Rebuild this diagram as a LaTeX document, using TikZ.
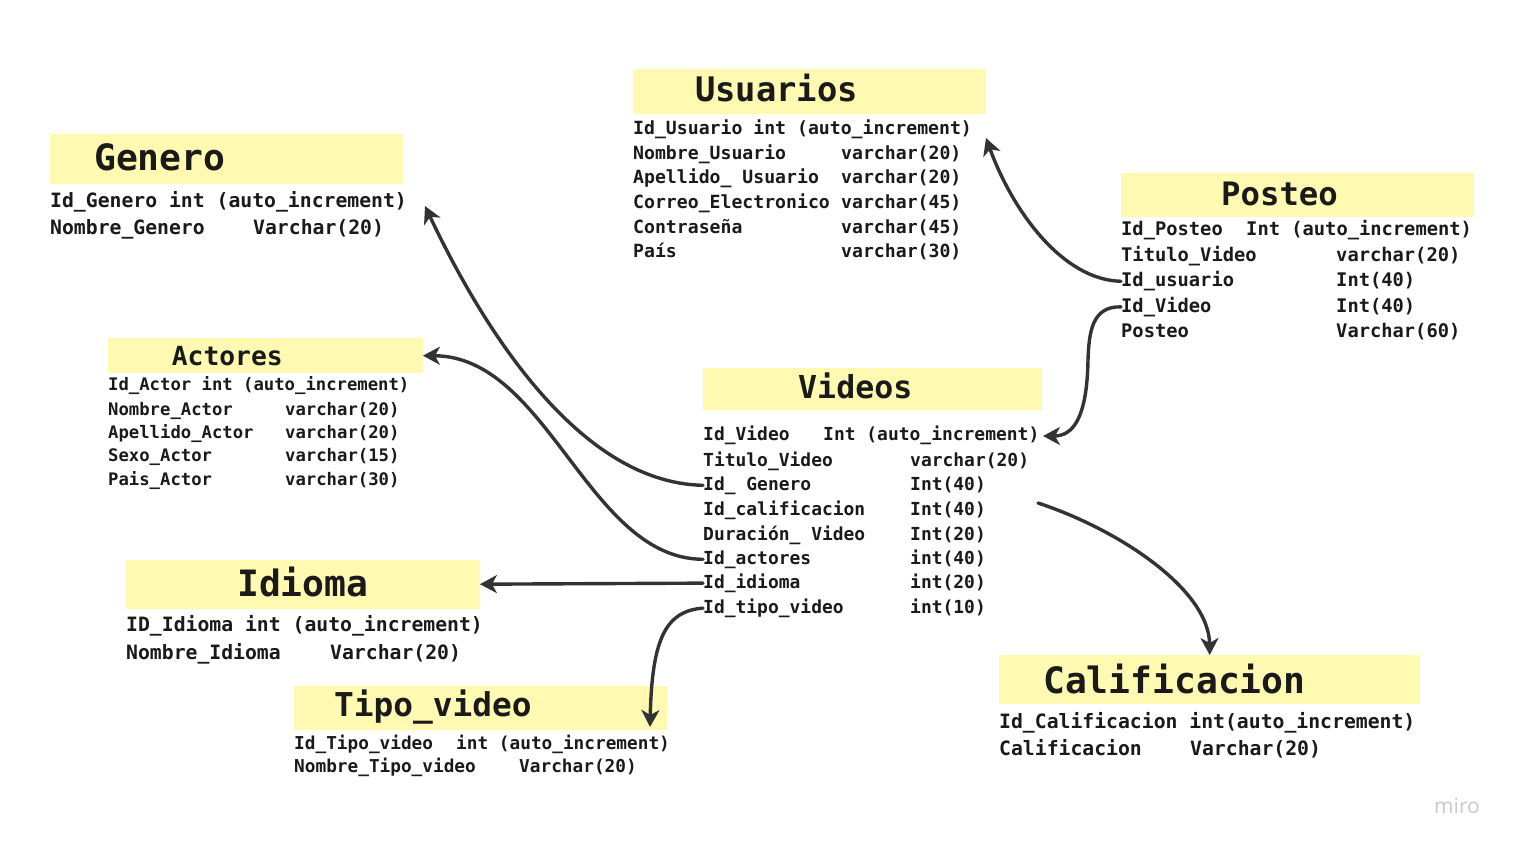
\documentclass[tikz,border=0pt]{standalone}
\usepackage{fontspec}
\setmainfont{DejaVu Sans}
\newfontfamily\dmono{DejaVu Sans Mono}
\newfontfamily\misans{Open Sans}
\usetikzlibrary{arrows.meta}
\definecolor{stickyY}{RGB}{255,249,177}
\definecolor{inkC}{RGB}{26,26,26}
\definecolor{lineC}{RGB}{51,51,51}
\definecolor{miroC}{RGB}{200,201,208}
\tikzset{
  ttlbox/.style={fill=stickyY, draw=none, anchor=north west, inner sep=0pt},
  ttltxt/.style={anchor=base west, inner sep=0pt, text=inkC, font=\dmono\bfseries\fontsize{#1}{#1}\selectfont},
  rowtxt/.style={anchor=base west, inner sep=0pt, text=inkC, font=\dmono\bfseries\fontsize{#1}{#1}\selectfont},
  rel/.style={draw=lineC, line width=3.4pt, line cap=round, -{Stealth[length=17pt,width=18pt,inset=5pt]}}
}
\begin{document}
\begin{tikzpicture}[x=1pt,y=-1pt]
\fill[white] (0,0) rectangle (1516,848);
\useasboundingbox (0,0) rectangle (1516,848);

% ---------- Genero
\node[ttlbox, minimum width=353pt, minimum height=49.5pt] (genT) at (49.5,134) {};
\node[ttltxt=36.3] (genN) at (94,170.7) {Genero};
\node[rowtxt=19.75] (g1) at (50,207.3) {Id\_Genero int (auto\_increment)};
\node[rowtxt=19.75] (g2) at (50,234) {Nombre\_Genero};
\node[rowtxt=19.75] (g2b) at (253,234) {Varchar(20)};

% ---------- Usuarios
\node[ttlbox, minimum width=352.5pt, minimum height=45.5pt] (usuT) at (633,68.5) {};
\node[ttltxt=33.8] (usuN) at (695,101.7) {Usuarios};
\node[rowtxt=18.15] (u1) at (633,135) {Id\_Usuario int (auto\_increment)};
\node[rowtxt=18.15] (u2) at (633,160) {Nombre\_Usuario};
\node[rowtxt=18.15] (u2b) at (841,160) {varchar(20)};
\node[rowtxt=18.15] (u3) at (633,184) {Apellido\_ Usuario};
\node[rowtxt=18.15] (u3b) at (841,184) {varchar(20)};
\node[rowtxt=18.15] (u4) at (633,208.3) {Correo\_Electronico};
\node[rowtxt=18.15] (u4b) at (841,208.3) {varchar(45)};
\node[rowtxt=18.15] (u5) at (633,233.3) {Contraseña};
\node[rowtxt=18.15] (u5b) at (841,233.3) {varchar(45)};
\node[rowtxt=18.15] (u6) at (633,257.3) {País};
\node[rowtxt=18.15] (u6b) at (841,257.3) {varchar(30)};

% ---------- Posteo
\node[ttlbox, minimum width=352.5pt, minimum height=44pt] (posT) at (1121,172.5) {};
\node[ttltxt=32.3] (posN) at (1221,205) {Posteo};
\node[rowtxt=18.75] (p1) at (1121,235.7) {Id\_Posteo};
\node[rowtxt=18.75] (p1b) at (1246,235.7) {Int (auto\_increment)};
\node[rowtxt=18.75] (p2) at (1121,261) {Titulo\_Video};
\node[rowtxt=18.75] (p2b) at (1336,261) {varchar(20)};
\node[rowtxt=18.75] (p3) at (1121,286.7) {Id\_usuario};
\node[rowtxt=18.75] (p3b) at (1336,286.7) {Int(40)};
\node[rowtxt=18.75] (p4) at (1121,312.3) {Id\_Video};
\node[rowtxt=18.75] (p4b) at (1336,312.3) {Int(40)};
\node[rowtxt=18.75] (p5) at (1121,337.3) {Posteo};
\node[rowtxt=18.75] (p5b) at (1336,337.3) {Varchar(60)};

% ---------- Actores
\node[ttlbox, minimum width=314.5pt, minimum height=35pt] (actT) at (108,338) {};
\node[ttltxt=26.3] (actN) at (171.7,365) {Actores};
\node[rowtxt=17.25] (a1) at (108,390.7) {Id\_Actor int (auto\_increment)};
\node[rowtxt=17.25] (a2) at (108,415) {Nombre\_Actor};
\node[rowtxt=17.25] (a2b) at (285,415) {varchar(20)};
\node[rowtxt=17.25] (a3) at (108,438.3) {Apellido\_Actor};
\node[rowtxt=17.25] (a3b) at (285,438.3) {varchar(20)};
\node[rowtxt=17.25] (a4) at (108,461.7) {Sexo\_Actor};
\node[rowtxt=17.25] (a4b) at (285,461.7) {varchar(15)};
\node[rowtxt=17.25] (a5) at (108,485) {Pais\_Actor};
\node[rowtxt=17.25] (a5b) at (285,485) {varchar(30)};

% ---------- Videos
\node[ttlbox, minimum width=338.5pt, minimum height=42pt] (vidT) at (703,368) {};
\node[ttltxt=31.6] (vidN) at (798,398.3) {Videos};
\node[rowtxt=17.95] (v1) at (703,440.7) {Id\_Video};
\node[rowtxt=17.95] (v1b) at (823,440.7) {Int (auto\_increment)};
\node[rowtxt=17.95] (v2) at (703,466) {Titulo\_Video};
\node[rowtxt=17.95] (v2b) at (910,466) {varchar(20)};
\node[rowtxt=17.95] (v3) at (703,490) {Id\_ Genero};
\node[rowtxt=17.95] (v3b) at (910,490) {Int(40)};
\node[rowtxt=17.95] (v4) at (703,515) {Id\_calificacion};
\node[rowtxt=17.95] (v4b) at (910,515) {Int(40)};
\node[rowtxt=17.95] (v5) at (703,540) {Duración\_ Video};
\node[rowtxt=17.95] (v5b) at (910,540) {Int(20)};
\node[rowtxt=17.95] (v6) at (703,564) {Id\_actores};
\node[rowtxt=17.95] (v6b) at (910,564) {int(40)};
\node[rowtxt=17.95] (v7) at (703,588.3) {Id\_idioma};
\node[rowtxt=17.95] (v7b) at (910,588.3) {int(20)};
\node[rowtxt=17.95] (v8) at (703,613.3) {Id\_tipo\_video};
\node[rowtxt=17.95] (v8b) at (910,613.3) {int(10)};

% ---------- Idioma
\node[ttlbox, minimum width=353.5pt, minimum height=49pt] (idT) at (126,559.5) {};
\node[ttltxt=36.3] (idN) at (237,596) {Idioma};
\node[rowtxt=19.75] (i1) at (126,631.7) {ID\_Idioma int (auto\_increment)};
\node[rowtxt=19.75] (i2) at (126,659.3) {Nombre\_Idioma};
\node[rowtxt=19.75] (i2b) at (330,659.3) {Varchar(20)};

% ---------- Tipo_video
\node[ttlbox, minimum width=372.5pt, minimum height=44pt] (tipT) at (294,686) {};
\node[ttltxt=32.8] (tipN) at (334,716.7) {Tipo\_video};
\node[rowtxt=17.75] (t1) at (294,749.3) {Id\_Tipo\_video};
\node[rowtxt=17.75] (t1b) at (456,749.3) {int (auto\_increment)};
\node[rowtxt=17.75] (t2) at (294,772.7) {Nombre\_Tipo\_video};
\node[rowtxt=17.75] (t2b) at (519,772.7) {Varchar(20)};

% ---------- Calificacion
\node[ttlbox, minimum width=421pt, minimum height=49pt] (calT) at (999,655) {};
\node[ttltxt=36.3] (calN) at (1043,693.3) {Calificacion};
\node[rowtxt=19.75] (c1) at (999,728.3) {Id\_Calificacion int(auto\_increment)};
\node[rowtxt=19.75] (c2) at (999,755) {Calificacion};
\node[rowtxt=19.75] (c2b) at (1190,755) {Varchar(20)};

% ---------- watermark
\node[font=\misans\fontsize{21}{24}\selectfont, text=miroC, inner sep=0pt] (miro) at (1457,806) {miro};

% ---------- connectors
\coordinate (genTip) at (425,206);
\coordinate (usuTip) at (986,138);
\coordinate (vidTip) at (1043,436);
\coordinate (tipTip) at (650,727);
\coordinate (calFrom) at (1038,503);
\coordinate (vidBend) at (1088,360);

\draw[rel] (v3.west) .. controls (575,483) and (478,318) .. (genTip);
\draw[rel] (v6.west) .. controls (588,559) and (548,356) .. (actT.east);
\draw[rel] (v7.west) -- (idT.east);
\draw[rel] (v8.west) .. controls (665,611) and (652,640) .. (tipTip);
\draw[rel] (p3.west) .. controls (1063,280) and (1013,212) .. (usuTip);
\draw[rel] (p4.west) .. controls (1092,306) and (1089,332) .. (vidBend) .. controls (1087,420) and (1072,436) .. (vidTip);
\draw[rel] (calFrom) .. controls (1120,530) and (1209,590) .. (calT.north);
\end{tikzpicture}
\end{document}
